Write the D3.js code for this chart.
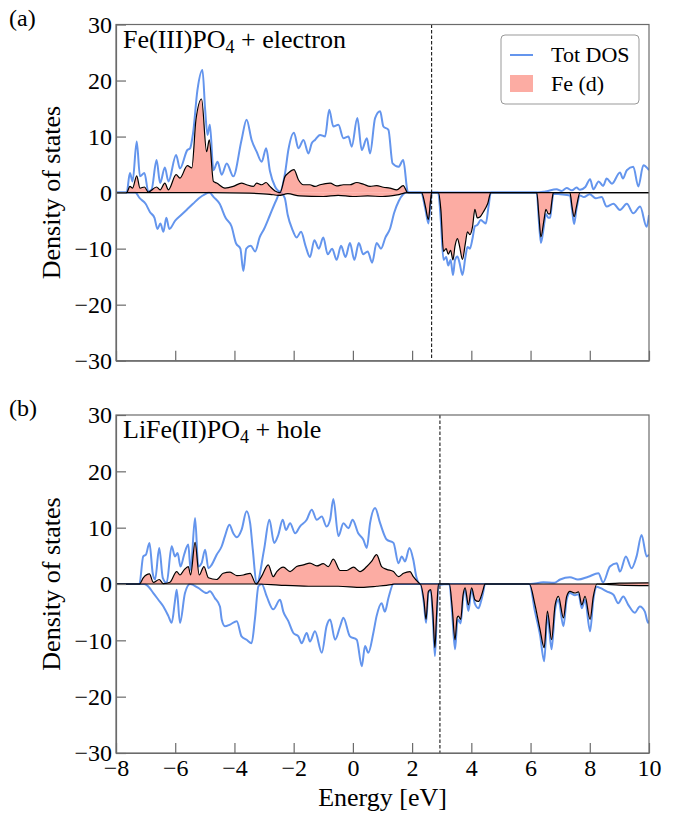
<!DOCTYPE html>
<html><head><meta charset="utf-8">
<script src="https://cdn.jsdelivr.net/npm/d3@7"></script>
<style>
body{margin:0;background:#fff;}
text{font-family:"Liberation Serif","Times New Roman",serif;fill:#000;}
</style></head><body>
<svg id="chart" width="681" height="813"></svg>
<script>
// ---- axes ----
const energyTicks = [-8, -6, -4, -2, 0, 2, 4, 6, 8, 10];
const dosTicks = [-30, -20, -10, 0, 10, 20, 30];
const fermiA = 2.66;   // dashed marker, panel (a)
const fermiB = 2.94;   // dashed marker, panel (b)

// ---- panel (a): Fe(III)PO4 + electron  [energy eV, DOS] ----
const totUpA = [[-8,0],[-7.64,0],[-7.53,3.5],[-7.44,2.0],[-7.30,9.1],[-7.19,2.9],[-7.04,3.5],[-6.91,0.2],[-6.80,0.5],[-6.63,5.8],[-6.51,1.7],[-6.35,4.5],[-6.23,2.0],[-5.97,6.7],[-5.84,4.3],[-5.59,7.6],[-5.50,7.9],[-5.40,10.5],[-5.25,18.3],[-5.08,21.9],[-4.99,14.8],[-4.91,10.3],[-4.83,12.1],[-4.71,4.0],[-4.57,5.5],[-4.43,3.2],[-4.26,5.2],[-4.04,2.9],[-3.76,9.4],[-3.59,13.0],[-3.42,9.4],[-3.25,7.3],[-3.08,5.5],[-2.93,7.9],[-2.80,3.8],[-2.63,1.1],[-2.46,0.2],[-2.29,3.5],[-2.18,7.6],[-1.99,10.7],[-1.84,7.9],[-1.67,9.4],[-1.50,7.0],[-1.39,8.8],[-1.28,9.4],[-1.11,10.3],[-0.94,10.0],[-0.80,14.8],[-0.66,11.8],[-0.49,12.1],[-0.32,9.7],[-0.15,10.0],[-0.04,8.2],[0.15,13.3],[0.30,7.6],[0.47,9.7],[0.58,7.0],[0.75,13.3],[0.92,14.5],[1.03,11.8],[1.20,11.2],[1.34,5.2],[1.54,4.6],[1.70,5.8],[1.85,0.2],[1.90,0],[6.20,0],[6.50,0.2],[6.88,0.6],[7.05,0.3],[7.22,0.8],[7.40,0.4],[7.55,0.9],[7.67,0.5],[7.85,1.0],[8.01,2.4],[8.12,0.6],[8.30,2.0],[8.45,1.2],[8.57,2.5],[8.75,1.6],[9.02,3.6],[9.12,2.5],[9.25,4.0],[9.47,4.6],[9.64,1.1],[9.81,4.9],[10,4.0]];
const totDownA = [[-8,0],[-7.35,0],[-7.20,-1.0],[-7.00,-2.0],[-6.85,-3.5],[-6.70,-4.5],[-6.60,-6.5],[-6.50,-5.5],[-6.40,-7.0],[-6.30,-4.5],[-6.20,-6.5],[-6.00,-5.0],[-5.80,-4.0],[-5.60,-3.0],[-5.40,-2.0],[-5.20,-1.0],[-5.00,-0.3],[-4.85,0],[-4.70,-0.8],[-4.50,-2.0],[-4.30,-4.5],[-4.10,-6.0],[-3.95,-9.0],[-3.80,-10.0],[-3.70,-14.0],[-3.60,-10.0],[-3.45,-9.5],[-3.30,-10.5],[-3.15,-8.0],[-3.00,-6.5],[-2.80,-4.0],[-2.60,-1.5],[-2.45,0],[-2.30,-1.0],[-2.20,-4.0],[-2.05,-6.5],[-1.90,-8.0],[-1.75,-7.0],[-1.60,-9.5],[-1.45,-11.5],[-1.30,-8.5],[-1.15,-10.0],[-1.00,-8.0],[-0.85,-11.0],[-0.70,-10.0],[-0.55,-12.0],[-0.40,-9.5],[-0.25,-11.5],[-0.10,-9.0],[0.05,-12.0],[0.20,-9.0],[0.35,-11.0],[0.50,-10.5],[0.65,-12.5],[0.80,-9.0],[0.95,-10.0],[1.10,-8.0],[1.25,-6.5],[1.40,-3.5],[1.55,-1.5],[1.70,-0.3],[1.80,0],[2.30,0],[2.45,-3.0],[2.55,-5.5],[2.62,-2.0],[2.67,0],[2.88,0],[2.97,-5.0],[3.06,-12.0],[3.15,-11.5],[3.22,-13.0],[3.30,-12.0],[3.38,-14.7],[3.45,-12.0],[3.53,-11.4],[3.60,-12.5],[3.70,-14.7],[3.80,-11.5],[3.87,-9.7],[3.95,-10.0],[4.04,-8.2],[4.12,-6.0],[4.20,-5.8],[4.32,-4.9],[4.40,-5.2],[4.49,-5.5],[4.58,-2.5],[4.66,0],[6.21,0],[6.28,-5.0],[6.35,-9.0],[6.45,-6.0],[6.52,-3.8],[6.60,-4.5],[6.66,-4.5],[6.72,-2.0],[6.77,-0.2],[7.00,-0.3],[7.33,-0.5],[7.40,-3.0],[7.47,-5.6],[7.55,-3.0],[7.67,-0.5],[7.80,-0.8],[8.00,-0.3],[8.20,-1.0],[8.40,-0.8],[8.57,-2.5],[8.80,-2.0],[9.02,-3.1],[9.25,-2.0],[9.47,-3.7],[9.70,-2.5],[9.92,-6.1],[10,-4.0]];
const feUpA = [[-8,0],[-7.64,0],[-7.53,1.1],[-7.44,0.8],[-7.30,3.0],[-7.19,0.8],[-7.04,1.0],[-6.91,0.1],[-6.63,1.0],[-6.51,0.5],[-6.35,1.7],[-6.23,0.5],[-5.97,3.2],[-5.84,2.6],[-5.59,4.8],[-5.44,4.4],[-5.30,13.0],[-5.11,16.7],[-4.94,7.3],[-4.85,9.4],[-4.71,2.0],[-4.60,1.7],[-4.32,0.8],[-4.04,1.1],[-3.76,1.7],[-3.59,1.4],[-3.36,1.1],[-3.25,1.7],[-3.08,1.4],[-2.93,1.8],[-2.80,1.1],[-2.63,0.3],[-2.46,0],[-2.29,2.9],[-2.18,3.5],[-1.99,4.1],[-1.84,2.3],[-1.67,1.4],[-1.45,1.4],[-1.28,1.1],[-1.11,1.4],[-0.77,1.7],[-0.55,1.2],[-0.32,1.4],[-0.10,1.4],[0.13,1.8],[0.35,1.5],[0.58,1.1],[0.80,1.25],[1.03,0.95],[1.25,0.8],[1.48,0.5],[1.70,1.25],[1.85,0],[10,0]];
const feDownA = [[-8,0],[-4.80,0],[-3.50,-0.1],[-2.80,-0.3],[-2.50,-0.5],[-2.20,-0.2],[-1.80,-0.6],[-1.00,-0.7],[-0.50,-0.5],[0,-0.7],[0.50,-0.6],[1.00,-0.7],[1.50,-0.4],[1.85,0],[2.32,0],[2.45,-2.5],[2.55,-4.8],[2.62,-1.5],[2.66,0],[2.89,0],[2.97,-3.0],[3.06,-10.5],[3.15,-10.0],[3.22,-11.0],[3.30,-10.3],[3.38,-12.0],[3.45,-9.5],[3.53,-8.2],[3.60,-9.5],[3.70,-11.9],[3.80,-9.0],[3.87,-7.0],[3.95,-7.5],[4.04,-6.1],[4.12,-3.0],[4.20,-4.5],[4.30,-4.3],[4.40,-3.5],[4.55,-2.0],[4.66,0],[6.21,0],[6.28,-4.0],[6.35,-7.9],[6.45,-5.0],[6.52,-3.0],[6.60,-3.8],[6.66,-3.8],[6.72,-1.5],[6.77,0],[7.33,0],[7.40,-2.5],[7.47,-4.3],[7.55,-2.5],[7.67,0],[10,0]];

// ---- panel (b): LiFe(II)PO4 + hole ----
const totUpB = [[-8,0],[-7.21,0],[-7.08,4.9],[-6.99,5.2],[-6.87,7.3],[-6.76,1.9],[-6.68,0.8],[-6.54,6.4],[-6.42,1.1],[-6.29,0.2],[-6.12,6.7],[-6.01,4.9],[-5.92,5.5],[-5.82,3.1],[-5.70,5.2],[-5.56,7.0],[-5.48,2.5],[-5.33,11.7],[-5.22,3.1],[-5.11,3.7],[-4.99,6.1],[-4.88,2.8],[-4.77,3.4],[-4.60,5.2],[-4.43,6.7],[-4.32,8.5],[-4.17,10.5],[-4.04,9.0],[-3.92,8.3],[-3.76,9.6],[-3.59,12.9],[-3.47,10.8],[-3.38,6.1],[-3.25,0],[-3.00,6.1],[-2.82,11.4],[-2.66,7.3],[-2.52,8.7],[-2.37,11.4],[-2.26,9.6],[-2.12,10.8],[-1.95,9.0],[-1.79,10.2],[-1.56,11.4],[-1.39,13.2],[-1.22,11.4],[-1.05,12.0],[-0.89,10.2],[-0.77,11.4],[-0.66,15.1],[-0.49,8.5],[-0.32,10.8],[-0.15,9.9],[-0.01,11.4],[0.18,9.0],[0.35,7.9],[0.47,6.4],[0.58,10.8],[0.75,13.5],[0.92,10.8],[1.14,7.9],[1.37,7.3],[1.54,3.7],[1.65,4.9],[1.76,4.0],[1.91,6.4],[2.04,4.3],[2.15,1.1],[2.27,0],[6.00,0],[6.43,0.3],[6.80,0.2],[7.00,0.8],[7.33,1.2],[7.60,0.8],[7.95,1.3],[8.29,1.9],[8.45,0.3],[8.68,3.1],[8.91,3.7],[9.02,2.2],[9.22,4.9],[9.41,2.8],[9.58,4.9],[9.75,8.7],[9.92,4.9],[10,5.2]];
const totDownB = [[-8,0],[-7.05,0],[-6.96,-0.2],[-6.74,-1.6],[-6.57,-2.8],[-6.40,-4.0],[-6.23,-5.7],[-6.12,-6.9],[-6.01,-3.1],[-5.95,-1.0],[-5.84,-6.9],[-5.67,-1.6],[-5.50,0],[-5.22,-0.7],[-4.94,-1.6],[-4.83,-1.3],[-4.66,-2.5],[-4.49,-4.0],[-4.43,-6.3],[-4.32,-7.5],[-4.15,-7.2],[-3.92,-6.6],[-3.76,-9.3],[-3.59,-9.9],[-3.42,-10.5],[-3.31,-6.3],[-3.19,-0.4],[-3.08,0],[-2.91,-2.2],[-2.69,-4.5],[-2.46,-2.8],[-2.35,-4.9],[-2.18,-6.6],[-2.01,-8.7],[-1.84,-9.3],[-1.73,-10.5],[-1.56,-8.7],[-1.45,-10.2],[-1.28,-8.4],[-1.05,-12.2],[-0.89,-7.5],[-0.77,-6.3],[-0.60,-9.9],[-0.43,-7.5],[-0.32,-6.0],[-0.10,-9.3],[0.13,-9.9],[0.30,-14.6],[0.41,-11.0],[0.52,-12.2],[0.69,-8.7],[0.80,-5.7],[0.97,-3.4],[1.08,-4.9],[1.20,-2.5],[1.37,0],[2.27,0],[2.40,-3.5],[2.47,-6.9],[2.55,-1.5],[2.63,-1.2],[2.70,-6.0],[2.77,-12.8],[2.83,-6.0],[2.89,-0.2],[3.26,0],[3.35,-5.0],[3.45,-11.6],[3.52,-7.0],[3.56,-6.3],[3.64,-7.0],[3.72,-2.5],[3.79,-1.0],[3.90,-4.8],[4.01,-1.0],[4.12,-3.5],[4.24,-4.3],[4.33,-3.0],[4.40,-1.5],[4.46,0],[5.96,0],[6.15,-4.9],[6.32,-9.0],[6.46,-13.7],[6.57,-5.6],[6.71,-11.6],[6.83,-4.5],[6.94,-2.8],[7.11,-7.5],[7.22,-2.8],[7.33,-1.6],[7.50,-2.0],[7.62,-1.8],[7.73,-4.3],[7.84,-2.8],[8.01,-8.4],[8.12,-2.8],[8.24,-0.5],[8.35,-0.7],[8.57,-1.3],[8.80,-1.9],[8.96,-3.4],[9.13,-2.2],[9.30,-3.7],[9.52,-5.1],[9.69,-4.0],[9.86,-4.9],[9.97,-6.9],[10,-6.5]];
const feUpB = [[-8,0],[-7.21,0],[-7.08,1.1],[-6.87,1.8],[-6.74,0.3],[-6.54,0.8],[-6.40,0.05],[-6.18,0.3],[-5.95,2.2],[-5.84,1.6],[-5.70,2.5],[-5.56,3.1],[-5.48,1.6],[-5.33,7.4],[-5.19,1.6],[-5.03,3.1],[-4.88,1.1],[-4.60,0.8],[-4.38,1.9],[-4.15,2.1],[-3.92,1.5],[-3.70,1.6],[-3.47,1.9],[-3.27,0],[-3.08,1.4],[-2.86,3.4],[-2.69,1.3],[-2.57,2.2],[-2.35,3.0],[-2.12,2.2],[-1.90,3.1],[-1.67,3.4],[-1.45,3.7],[-1.22,3.2],[-1.00,3.6],[-0.83,3.1],[-0.66,4.4],[-0.43,2.4],[-0.21,2.4],[0.02,3.0],[0.24,2.2],[0.47,3.1],[0.63,4.0],[0.80,5.2],[0.97,3.1],[1.14,2.6],[1.37,2.2],[1.54,1.3],[1.71,1.9],[1.93,2.2],[2.04,1.3],[2.21,0.3],[2.27,0],[8.20,0],[9.00,0.15],[10,0.2]];
const feDownB = [[-8,0],[-3.20,0],[-2.50,-0.2],[-1.50,-0.4],[-0.50,-0.4],[0.30,-0.6],[0.80,-0.4],[1.30,-0.1],[1.40,0],[2.27,0],[2.40,-3.0],[2.47,-6.3],[2.55,-1.3],[2.63,-1.0],[2.70,-5.0],[2.77,-11.3],[2.83,-5.0],[2.89,0],[3.26,0],[3.35,-4.0],[3.45,-9.9],[3.52,-6.0],[3.56,-5.7],[3.64,-6.3],[3.72,-2.0],[3.79,-0.7],[3.90,-3.7],[4.01,-0.7],[4.12,-2.8],[4.24,-3.1],[4.33,-2.2],[4.40,-1.0],[4.46,0],[5.96,0],[6.15,-3.7],[6.32,-8.1],[6.46,-11.3],[6.57,-4.8],[6.71,-9.9],[6.83,-3.7],[6.94,-2.2],[7.11,-6.0],[7.22,-2.2],[7.33,-1.3],[7.50,-1.6],[7.62,-1.4],[7.73,-3.7],[7.84,-2.2],[8.01,-6.3],[8.12,-2.2],[8.24,0],[9.00,-0.2],[10,-0.3]];

// ---- layout ----
const svg = d3.select("#chart");
const plotLeft = 116, plotRight = 649;
const panels = [
  {top: 24.5, bottom: 360.7, tag: "(a)", name: ["Fe(III)PO", "4", " + electron"], fermi: fermiA,
   totUp: totUpA, totDown: totDownA, feUp: feUpA, feDown: feDownA, xLabels: false, legend: true},
  {top: 415, bottom: 753, tag: "(b)", name: ["LiFe(II)PO", "4", " + hole"], fermi: fermiB,
   totUp: totUpB, totDown: totDownB, feUp: feUpB, feDown: feDownB, xLabels: true, legend: false}
];

const blue = "#6495ed";
const feFill = "#fa8072";
const spine = "#6b6b6b";

const x = d3.scaleLinear().domain([-8, 10]).range([plotLeft, plotRight]);

panels.forEach((p, i) => {
  const y = d3.scaleLinear().domain([-30, 30]).range([p.bottom, p.top]);
  const g = svg.append("g");

  const clipId = "clip" + i;
  svg.append("clipPath").attr("id", clipId).append("rect")
    .attr("x", plotLeft).attr("y", p.top).attr("width", plotRight - plotLeft).attr("height", p.bottom - p.top);
  const plot = g.append("g").attr("clip-path", `url(#${clipId})`);

  const line = d3.line().x(d => x(d[0])).y(d => y(d[1])).curve(d3.curveMonotoneX);
  const area = d3.area().x(d => x(d[0])).y0(y(0)).y1(d => y(d[1])).curve(d3.curveMonotoneX);

  // total DOS, spin up and spin down
  [p.totUp, p.totDown].forEach(s => {
    plot.append("path").attr("d", line(s)).attr("fill", "none")
      .attr("stroke", blue).attr("stroke-width", 2).attr("stroke-linejoin", "round");
  });
  // Fe d projected DOS
  [p.feUp, p.feDown].forEach(s => {
    plot.append("path").attr("d", area(s)).attr("fill", feFill).attr("fill-opacity", 0.65);
  });
  [p.feUp, p.feDown].forEach(s => {
    plot.append("path").attr("d", line(s)).attr("fill", "none")
      .attr("stroke", "#000").attr("stroke-width", 1.2).attr("stroke-linejoin", "round");
  });

  // dashed marker
  plot.append("line").attr("x1", x(p.fermi)).attr("x2", x(p.fermi))
    .attr("y1", p.top).attr("y2", p.bottom)
    .attr("stroke", "#000").attr("stroke-width", 1).attr("stroke-dasharray", "3.5,2");

  // axes
  const xAxis = d3.axisBottom(x).tickValues(energyTicks).tickSizeInner(-10).tickSizeOuter(0).tickPadding(6)
    .tickFormat(p.xLabels ? d3.format("d") : () => "");
  const gx = g.append("g").attr("transform", `translate(0,${p.bottom})`).call(xAxis);
  const yAxis = d3.axisLeft(y).tickValues(dosTicks).tickSizeInner(-10).tickSizeOuter(0).tickPadding(4)
    .tickFormat(d3.format("d"));
  const gy = g.append("g").attr("transform", `translate(${plotLeft},0)`).call(yAxis);
  [gx, gy].forEach(a => {
    a.select(".domain").attr("stroke", spine).attr("stroke-width", 1.2);
    a.selectAll(".tick line").attr("stroke", spine).attr("stroke-width", 1.2);
    a.selectAll(".tick text").attr("font-size", 24).attr("fill", "#000")
      .style("font-family", '"Liberation Serif", serif');
  });

  // top/right spines
  g.append("rect").attr("x", plotLeft).attr("y", p.top)
    .attr("width", plotRight - plotLeft).attr("height", p.bottom - p.top)
    .attr("fill", "none").attr("stroke", spine).attr("stroke-width", 1.2);

  // panel name with subscript
  const t = g.append("text").attr("x", plotLeft + 7).attr("y", p.top + 23).attr("font-size", 26);
  t.append("tspan").text(p.name[0]);
  t.append("tspan").text(p.name[1]).attr("font-size", 18).attr("dy", 5);
  t.append("tspan").text(p.name[2]).attr("dy", -5);

  // panel tag
  g.append("text").attr("x", 9).attr("y", p.top + 1).attr("font-size", 24).text(p.tag);

  // y label
  g.append("text").attr("transform", `translate(60,${(p.top + p.bottom) / 2}) rotate(-90)`)
    .attr("text-anchor", "middle").attr("font-size", 26).text("Density of states");

  if (p.legend) {
    const lg = g.append("g");
    lg.append("rect").attr("x", 501).attr("y", 35).attr("width", 138).attr("height", 69)
      .attr("rx", 4).attr("fill", "#fff").attr("fill-opacity", 0.8)
      .attr("stroke", "#999").attr("stroke-width", 1);
    lg.append("line").attr("x1", 510).attr("x2", 533).attr("y1", 55).attr("y2", 55)
      .attr("stroke", blue).attr("stroke-width", 2);
    lg.append("text").attr("x", 551).attr("y", 62).attr("font-size", 22).text("Tot DOS");
    lg.append("rect").attr("x", 510).attr("y", 75).attr("width", 23).attr("height", 17)
      .attr("fill", feFill).attr("fill-opacity", 0.65);
    lg.append("text").attr("x", 551).attr("y", 91).attr("font-size", 22).text("Fe (d)");
  }
});

// x label
svg.append("text").attr("x", (plotLeft + plotRight) / 2).attr("y", 806)
  .attr("text-anchor", "middle").attr("font-size", 26).text("Energy [eV]");
</script>
</body></html>
